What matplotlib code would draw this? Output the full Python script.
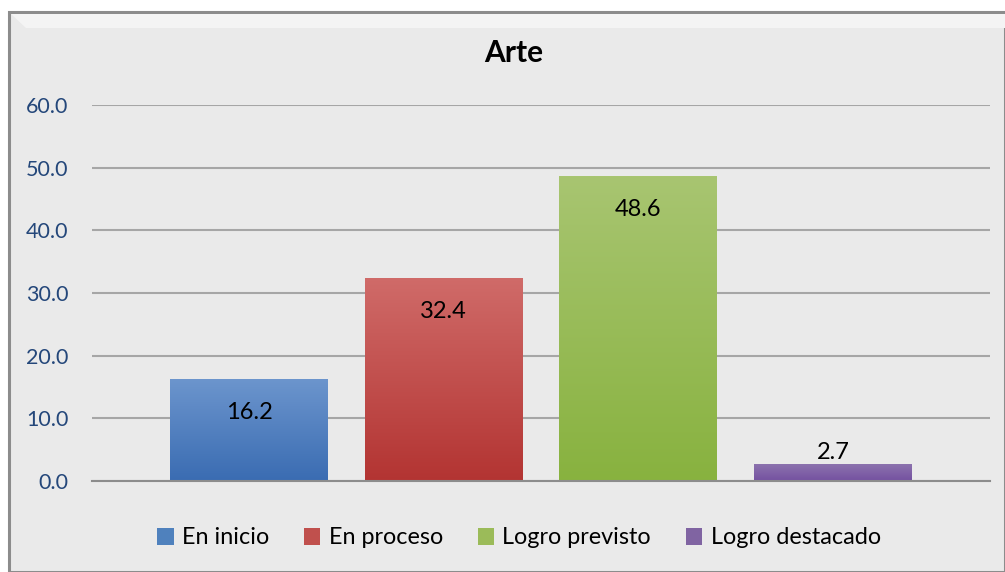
import matplotlib
matplotlib.use("Agg")
import matplotlib.pyplot as plt
import numpy as np
from matplotlib.patches import Rectangle, Patch, Polygon
from matplotlib.colors import LinearSegmentedColormap

plt.rcParams['font.family'] = ['Lato', 'DejaVu Sans']

title = "Arte"
categories = ["En inicio", "En proceso", "Logro previsto", "Logro destacado"]
values = [16.2, 32.4, 48.6, 2.7]
yticks = [0, 10, 20, 30, 40, 50, 60]
top_colors = ["#6C95CD", "#D06B69", "#A8C571", "#8C73AE"]
bot_colors = ["#3A6CB2", "#B33432", "#88B23F", "#7450A0"]
legend_colors = ["#4F81BD", "#C0504D", "#9BBB59", "#8064A2"]

W, H = 1005, 572
fig = plt.figure(figsize=(W/100, H/100), dpi=100)
fig.patch.set_facecolor("white")

# chart frame on a background axes
bg = fig.add_axes([0, 0, 1, 1], zorder=-1)
bg.set_xlim(0, W)
bg.set_ylim(H, 0)
bg.axis("off")
bg.add_patch(Rectangle((9, 12), W - 9, H - 12, facecolor="#EAEAEA",
                       edgecolor="#8C8C8C", linewidth=2.2))
bg.add_patch(Polygon([(11, 14), (W, 14), (W, 28), (26, 28)], closed=True,
                     facecolor="#F4F4F4", edgecolor="none"))

ax = fig.add_axes([92/W, 1-481/H, (990-92)/W, (481-105)/H])
ax.set_facecolor("none")
x = np.arange(len(categories))
step = 194.7
width = 158/step
bars = ax.bar(x, values, width=width, color="none", edgecolor="none", zorder=3)

for b, tc, bc in zip(bars, top_colors, bot_colors):
    cmap = LinearSegmentedColormap.from_list("g", [bc, tc])
    grad = np.linspace(0, 1, 256).reshape(-1, 1)
    x0, y0 = b.get_x(), b.get_y()
    im = ax.imshow(grad, cmap=cmap, origin="lower", aspect="auto",
                   extent=[x0, x0+b.get_width(), y0, y0+b.get_height()], zorder=3)
    im.set_clip_path(b)

ax.set_xlim((92-249)/step, (990-249)/step)
ax.set_ylim(0, 60)

for xi, v in zip(x, values):
    if v > 5:
        ax.text(xi, v - 3.6, f"{v:.1f}", ha="center", va="top", fontsize=17, color="black", zorder=5)
    else:
        ax.text(xi, v + 0.2, f"{v:.1f}", ha="center", va="bottom", fontsize=17, color="black", zorder=5)

ax.set_yticks(yticks)
ax.set_yticklabels([f"{t:.1f}" for t in yticks], fontsize=15.5, color="#24477A")
ax.tick_params(axis="y", length=0, pad=17)
ax.set_xticks([])
ax.yaxis.grid(True, color="#A6A6A6", linewidth=1.5, zorder=1)
ax.set_axisbelow(True)
for s in ["top", "right", "left"]:
    ax.spines[s].set_visible(False)
ax.spines["bottom"].set_color("#8C8C8C")
ax.spines["bottom"].set_linewidth(1.5)
ax.spines["bottom"].set_zorder(4)

fig.text(514/W, 1-53/H, title, ha="center", va="center", fontsize=21.5, fontweight="bold")

handles = [Patch(facecolor=c, edgecolor="none") for c in legend_colors]
fig.legend(handles, categories, loc="center", bbox_to_anchor=(519/W, 1-538/H), ncol=4,
           frameon=False, fontsize=16.8, handlelength=0.7, handleheight=0.7,
           handletextpad=0.35, columnspacing=1.5)

fig.savefig("out.png", dpi=100, facecolor=fig.get_facecolor())
